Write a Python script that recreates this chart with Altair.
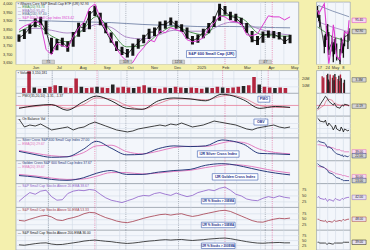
import altair as alt
import pandas as pd

# ============================ DATA ============================
# weekly samples of the main (one-year) chart
week_dates = pd.date_range("2024-05-24", periods=51, freq="7D")
close = [92.9, 94.6, 97.2, 99.8, 100.2, 95.9, 87.3, 90.8, 91.2, 88.6,
         93.8, 98.1, 97.2, 103.2, 105.4, 99.8, 95.9, 91.6, 88.2, 86.9,
         85.6, 88.6, 90.8, 92.9, 95.5, 95.5, 98.9, 98.9, 100.6, 98.5,
         97.2, 93.3, 91.6, 92.9, 95.5, 98.1, 101.1, 106.6, 104.5, 102.4,
         101.9, 99.3, 95.9, 92.0, 91.6, 94.2, 94.6, 94.6, 93.3, 91.2, 92.9]
high = [94.5, 96.8, 99.0, 101.6, 102.3, 100.5, 93.0, 92.5, 93.0, 91.5,
        95.5, 99.6, 99.5, 104.8, 107.2, 104.0, 99.5, 95.3, 91.5, 89.0,
        88.0, 90.5, 92.6, 94.3, 97.0, 97.5, 100.2, 100.6, 102.0, 100.5,
        99.0, 97.5, 93.8, 94.5, 97.0, 99.5, 102.5, 108.0, 107.0, 104.5,
        103.6, 101.8, 99.5, 96.0, 93.8, 95.8, 96.2, 96.0, 95.5, 93.8, 94.3]
low = [91.2, 92.5, 94.8, 97.6, 98.5, 94.6, 85.8, 87.5, 89.2, 86.8,
       89.0, 93.5, 95.6, 96.8, 102.6, 98.5, 95.0, 90.8, 87.2, 85.4,
       84.3, 85.1, 88.2, 90.6, 92.5, 93.8, 95.0, 97.0, 98.5, 97.0,
       95.6, 92.6, 90.0, 90.8, 92.8, 95.0, 97.8, 100.5, 103.2, 100.8,
       100.0, 98.8, 95.2, 91.0, 89.8, 90.8, 93.0, 92.8, 92.2, 90.2, 90.6]
index_line = [3846, 3869, 3881, 3899, 3881, 3727, 3697, 3763, 3751, 3739,
              3804, 3858, 3893, 3976, 4000, 3917, 3846, 3792, 3733, 3685,
              3656, 3650, 3703, 3739, 3786, 3774, 3840, 3828, 3858, 3846,
              3834, 3786, 3774, 3780, 3798, 3852, 3887, 3929, 3923, 3899,
              3893, 3881, 3816, 3810, 3822, 3875, 3929, 3923, 3923, 3905, 3923]
volume_m = [7, 30, 8, 6, 7, 9, 11, 10, 8, 7, 20, 9, 7, 8, 9, 8, 7, 12, 8, 9,
            8, 7, 9, 11, 8, 7, 6, 8, 7, 9, 8, 7, 8, 7, 6, 8, 7, 9, 8, 7,
            8, 9, 10, 11, 22, 12, 9, 8, 7, 8, 7]
volume_up = [0, 0, 1, 0, 1, 0, 0, 1, 0, 0, 0, 1, 0, 0, 1, 0, 0, 1, 0, 0,
             0, 1, 0, 0, 1, 0, 0, 0, 1, 0, 0, 1, 0, 0, 0, 1, 0, 0, 1, 0,
             0, 0, 1, 0, 0, 1, 0, 0, 1, 0, 0]
obv = [38, 22, 26, 24, 28, 22, 16, 18, 20, 22, 16, 20, 22, 28, 32, 28, 24, 20, 16, 14,
       12, 14, 18, 20, 22, 24, 26, 24, 28, 26, 30, 26, 22, 24, 26, 30, 34, 32, 30, 28,
       26, 22, 18, 16, 20, 22, 24, 26, 22, 20, 22]
pct20 = [25, 45, 62, 55, 68, 72, 45, 30, 32, 58, 68, 72, 70, 75, 72, 55, 40, 30, 25, 20,
         28, 35, 45, 50, 48, 58, 62, 55, 50, 60, 52, 45, 50, 62, 68, 74, 70, 80, 85, 72,
         55, 48, 35, 30, 28, 38, 45, 40, 48, 42, 39]
pct50 = [43, 40, 48, 55, 62, 65, 58, 45, 42, 50, 55, 62, 72, 78, 76, 65, 55, 48, 40, 35,
         33, 38, 45, 52, 58, 63, 68, 70, 66, 70, 72, 65, 60, 64, 70, 75, 80, 85, 87, 82,
         72, 62, 52, 42, 36, 35, 42, 48, 52, 50, 53]
pct200 = [26, 24, 28, 32, 35, 36, 30, 27, 28, 32, 36, 40, 45, 48, 50, 47, 44, 42, 38, 35,
          33, 35, 38, 42, 45, 47, 50, 52, 50, 52, 53, 50, 48, 50, 52, 55, 57, 59, 60, 57,
          52, 47, 42, 38, 35, 34, 36, 37, 38, 36, 36]

# smooth indicator curves, sampled roughly every three weeks
curve_dates = pd.to_datetime([
    "2024-05-24", "2024-06-15", "2024-07-05", "2024-07-25", "2024-08-15", "2024-09-01",
    "2024-09-20", "2024-10-10", "2024-10-30", "2024-11-20", "2024-12-10", "2024-12-31",
    "2025-01-20", "2025-02-10", "2025-02-20", "2025-03-10", "2025-03-31", "2025-04-20",
    "2025-05-09"])
ema20 = [95.5, 98.5, 93.8, 91.2, 96.8, 102.4, 95.9, 89.0, 89.5, 94.6,
         98.1, 95.5, 94.2, 102.8, 102.8, 101.1, 94.6, 93.8, 93.7]
ema50 = [95.9, 97.2, 96.3, 95.1, 96.3, 98.9, 97.6, 93.3, 92.5, 94.2,
         96.3, 95.9, 95.9, 98.9, 99.8, 99.3, 96.8, 95.1, 94.2]
ema200 = [100.6, 100.5, 100.4, 100.2, 100.0, 99.9, 99.7, 99.3, 98.9, 98.6,
          98.4, 98.1, 97.9, 98.0, 98.0, 97.9, 97.7, 97.5, 97.4]
pmo = [-0.77, -0.02, 0.22, -1.26, 0.97, 2.46, 1.22, -0.77, -1.02, 1.22,
       1.96, 1.71, 1.22, 2.95, 2.71, 1.46, -0.77, -0.27, -0.52]
pmo_signal = [-0.52, -0.27, 0.22, -0.77, 0.22, 1.96, 1.71, -0.02, -1.02, 0.47,
              1.71, 1.71, 1.46, 2.46, 2.71, 1.96, -0.02, -0.52, -0.52]
silver = [41, 26, 15, 17, 50, 85, 55, 26, 28, 53, 65, 62, 65, 91, 88, 72, 32, 30, 27]
silver_ema = [45, 32, 22, 18, 35, 65, 68, 40, 30, 42, 58, 63, 63, 78, 84, 80, 50, 36, 30]
golden = [35, 28, 18, 14, 25, 45, 57, 40, 40, 50, 57, 62, 80, 87, 85, 74, 58, 46, 38]
golden_ema = [40, 33, 24, 18, 20, 32, 48, 48, 42, 46, 53, 58, 70, 80, 83, 80, 68, 55, 46]

# daily data of the small zoomed panel
small_dates = pd.to_datetime([
    "2025-04-15", "2025-04-16", "2025-04-17", "2025-04-21", "2025-04-22", "2025-04-23",
    "2025-04-24", "2025-04-25", "2025-04-28", "2025-04-29", "2025-04-30", "2025-05-01",
    "2025-05-02", "2025-05-05", "2025-05-06", "2025-05-07", "2025-05-08", "2025-05-09",
    "2025-05-12", "2025-05-13"])
s_close = [97.3, 96.4, 95.5, 89.5, 91.1, 92.8, 93.3, 88.8, 90.6, 87.3,
           89.5, 90.2, 87.3, 86.2, 90.2, 89.5, 88.4, 91.7, 92.1, 92.9]
s_high = [98.6, 97.6, 96.6, 92.0, 92.4, 94.2, 94.6, 92.8, 92.0, 90.5,
          91.2, 91.5, 90.2, 89.0, 91.5, 91.0, 90.2, 93.0, 92.6, 93.6]
s_low = [96.0, 95.2, 93.8, 88.0, 89.4, 91.0, 91.8, 87.6, 88.4, 86.0,
         87.8, 88.8, 86.4, 85.2, 88.2, 88.0, 87.0, 89.6, 89.0, 90.8]
s_index = [97.7, 96.8, 97.3, 99.1, 96.2, 92.8, 88.8, 85.7, 90.6, 94.4,
           92.8, 89.5, 87.3, 86.6, 88.4, 90.6, 91.1, 92.8, 92.4, 95.4]
s_volume = [4.2, 3.6, 3.9, 4.5, 4.8, 3.4, 2.9, 4.6, 3.8, 4.4,
            3.2, 4.7, 4.0, 3.5, 4.3, 3.0, 4.6, 3.7, 2.6, 3.3]
s_volume_up = [0, 0, 0, 0, 1, 1, 1, 0, 1, 0, 1, 1, 0, 0, 1, 0, 0, 1, 0, 1]
s_pmo = [-0.97, -0.45, 0.07, 1.9, 2.42, 2.16, 1.63, 1.11, 0.33, 0.07,
         0.59, 0.07, -0.45, -0.72, -0.19, 0.07, -0.19, 0.33, 0.07, -0.19]
s_pmo_signal = [-1.24, -0.97, -0.71, 0.07, 0.85, 1.37, 1.63, 1.63, 1.37, 0.85,
                0.59, 0.59, 0.33, 0.07, 0.07, 0.07, 0.07, 0.07, 0.07, 0.07]
s_obv = [40, 38, 34, 32, 36, 28, 24, 30, 22, 16, 20, 26, 18, 14, 22, 18, 12, 18, 14, 16]
s_silver = [83, 87, 83, 78, 74, 65, 57, 61, 52, 43, 39, 35, 30, 26, 22, 26, 17, 22, 17, 22]
s_silver_ema = [70, 70, 70, 65, 65, 65, 61, 61, 57, 57, 52, 52, 48, 48, 43, 43, 43, 39, 39, 39]
s_golden = [87, 83, 78, 70, 65, 61, 57, 48, 43, 39, 35, 30, 26, 22, 17, 17, 13, 13, 13, 13]
s_golden_ema = [78, 74, 74, 70, 65, 65, 61, 57, 52, 48, 48, 43, 43, 39, 39, 35, 35, 35, 30, 30]
s_pct20 = [42, 46, 38, 33, 38, 29, 25, 33, 29, 25, 33, 38, 33, 29, 33, 38, 33, 38, 42, 42]
s_pct50 = [48, 48, 43, 39, 43, 35, 35, 39, 35, 39, 43, 39, 39, 43, 39, 43, 48, 43, 48, 48]
s_pct200 = [39, 39, 35, 35, 35, 30, 30, 35, 30, 30, 35, 35, 35, 35, 35, 35, 39, 39, 39, 39]
s_curve_dates = pd.to_datetime(["2025-04-15", "2025-04-28", "2025-05-13"])
s_ema20 = [93.9, 91.7, 90.6]
s_ema50 = [95.1, 93.9, 92.8]
s_ema200 = [98.8, 97.5, 96.2]

# axis / marker dates and labels
month_starts = pd.date_range("2024-06-01", periods=12, freq="MS")
month_label_dates = ["2024-06-15", "2024-07-15", "2024-08-15", "2024-09-15", "2024-10-15",
                     "2024-11-15", "2024-12-15", "2025-01-15", "2025-02-15", "2025-03-15",
                     "2025-04-15", "2025-05-15"]
month_labels = ["Jun", "Jul", "Aug", "Sep", "Oct", "Nov", "Dec", "2025", "Feb", "Mar", "Apr", "May"]
gray_marks = pd.to_datetime(["2024-07-01", "2024-10-09", "2024-12-16", "2025-04-07"])
pink_marks = pd.to_datetime(["2024-08-30", "2025-02-14", "2025-04-16"])
small_label_dates = ["2025-04-17", "2025-04-24", "2025-05-01", "2025-05-08"]
small_labels = ["17", "24", "May", "8"]

# ============================ STYLE ============================
YEL = "#f4f0ae"
PLOT = "#f3f6fb"
GRID = "#d3dbe7"
FONT = "Liberation Sans"
LBL = 3.8
W_MAIN, W_SMALL = 285, 34
MAG = "#dc3ccf"
NAVY = "#26397a"
PINK = "#e070bb"
BOX_SHAPE = "M-1,-0.32H1V0.32H-1Z"


def dt(s):
    y, m, d = (int(v) for v in s.split("-"))
    return alt.DateTime(year=y, month=m, date=d)


MAIN_DOM = [dt("2024-05-20"), dt("2025-05-20")]
SMALL_DOM = [dt("2025-04-14"), dt("2025-05-14")]


def xm(axis=None):
    return alt.X("date:T", scale=alt.Scale(domain=MAIN_DOM), axis=axis, title=None)


def xs(axis=None):
    return alt.X("date:T", scale=alt.Scale(domain=SMALL_DOM), axis=axis, title=None)


def yaxis(values, fmt=None, expr=None, labels=True, orient="right", grid=True, pad=3):
    kw = dict(orient=orient, values=values, grid=grid, gridColor=GRID, gridWidth=0.6,
              ticks=False, domain=False, labels=labels, labelFontSize=LBL,
              labelColor="#333", labelPadding=pad, title=None, labelFont=FONT)
    if fmt:
        kw["format"] = fmt
    if expr:
        kw["labelExpr"] = expr
    return alt.Axis(**kw)


month_df = pd.DataFrame({"date": month_starts})
gray_df = pd.DataFrame({"date": gray_marks})
pink_df = pd.DataFrame({"date": pink_marks})
small_lbl_df = pd.DataFrame({"date": pd.to_datetime(small_label_dates)})


def vlines_main():
    a = alt.Chart(month_df).mark_rule(color=GRID, strokeWidth=0.6).encode(x=xm())
    b = alt.Chart(gray_df).mark_rule(color="#7d8593", strokeWidth=0.6, strokeDash=[1, 1.2]).encode(x=xm())
    c = alt.Chart(pink_df).mark_rule(color="#e0508c", strokeWidth=0.6, strokeDash=[1, 1.2]).encode(x=xm())
    return [a, b, c]


def vlines_small():
    return [alt.Chart(small_lbl_df).mark_rule(color=GRID, strokeWidth=0.6).encode(x=xs())]


def txt(text, x, y, color="#333", size=3.4, bold=False, align="left"):
    return alt.Chart(pd.DataFrame({"t": [text]})).mark_text(
        align=align, baseline="middle", fontSize=size, color=color, font=FONT,
        fontWeight="bold" if bold else "normal").encode(x=alt.value(x), y=alt.value(y), text="t:N")


def box(text, x, y, w, h, size=3.6):
    r = alt.Chart(pd.DataFrame({"t": [text]})).mark_rect(
        fill="white", stroke="#3a5bb0", strokeWidth=0.6).encode(
        x=alt.value(x), x2=alt.value(x + w), y=alt.value(y), y2=alt.value(y + h))
    return [r, txt(text, x + w / 2, y + h / 2 + 0.2, "#1b2f8a", size, True, "center")]


def marker(value, scale, color, fill, fmt="{:.2f}", text_color="#222"):
    """value tag on the right axis strip of a small panel"""
    df = pd.DataFrame({"v": [value], "t": [fmt.format(value)]})
    y = alt.Y("v:Q", scale=scale, axis=None)
    pt = alt.Chart(df).mark_point(shape=BOX_SHAPE, size=200, filled=True, fill=fill, stroke=color,
                                  strokeWidth=0.5, opacity=1).encode(x=alt.value(W_SMALL + 9), y=y)
    tx = alt.Chart(df).mark_text(fontSize=3.2, color=text_color, font=FONT, baseline="middle").encode(
        x=alt.value(W_SMALL + 9), y=y, text="t:N")
    return [pt, tx]


# ============================ FRAMES ============================
pm = pd.DataFrame({"date": week_dates, "close": close, "high": high, "low": low,
                   "idx": index_line, "vol": volume_m, "obv": obv,
                   "p20": pct20, "p50": pct50, "p200": pct200,
                   "dir": ["up" if u else "down" for u in volume_up]})
cv = pd.DataFrame({"date": curve_dates, "ema20": ema20, "ema50": ema50, "ema200": ema200,
                   "pmo": pmo, "pmo_sig": pmo_signal, "silver": silver, "silver_ema": silver_ema,
                   "golden": golden, "golden_ema": golden_ema})
sm = pd.DataFrame({"date": small_dates, "close": s_close, "high": s_high, "low": s_low,
                   "idx": s_index, "vol": s_volume, "pmo": s_pmo, "pmo_sig": s_pmo_signal,
                   "obv": s_obv, "silver": s_silver, "silver_ema": s_silver_ema,
                   "golden": s_golden, "golden_ema": s_golden_ema,
                   "p20": s_pct20, "p50": s_pct50, "p200": s_pct200,
                   "dir": ["up" if u else "down" for u in s_volume_up]})
scv = pd.DataFrame({"date": s_curve_dates, "ema20": s_ema20, "ema50": s_ema50, "ema200": s_ema200})

DIR_COLOR = alt.Color("dir:N", scale=alt.Scale(domain=["up", "down"], range=["#262626", "#b3263f"]), legend=None)


def line(df, xfun, field, scale, color, width=0.8, axis=None, interp="linear"):
    return alt.Chart(df).mark_line(color=color, strokeWidth=width, clip=True, interpolate=interp).encode(
        x=xfun(), y=alt.Y(f"{field}:Q", scale=scale, axis=axis, title=None))


# ---------------- price row ----------------
PRICE_Y = alt.Scale(domain=[81.2, 108.8])
IDX_Y = alt.Scale(domain=[3638, 4012])
price_inner = alt.layer(
    line(cv, xm, "ema200", PRICE_Y, "#7282a6", 0.9, interp="monotone"),
    line(cv, xm, "ema50", PRICE_Y, "#a77fc2", 0.9, interp="monotone"),
    line(cv, xm, "ema20", PRICE_Y, "#3c8a3c", 0.9, interp="monotone"),
    alt.Chart(pm).mark_rule(color="#151515", strokeWidth=3.0, clip=True).encode(
        x=xm(), y=alt.Y("low:Q", scale=PRICE_Y, axis=None), y2="high:Q"),
    line(pm, xm, "close", PRICE_Y, "#000000", 0.8,
         axis=yaxis([82.5, 85.0, 87.5, 90.0, 92.5, 95.0, 97.5, 100.0, 102.5, 105.0, 107.5], fmt=".1f")),
)
idx_layer = line(pm, xm, "idx", IDX_Y, MAG, 1.0,
                 axis=yaxis([3650, 3700, 3750, 3800, 3850, 3900, 3950, 4000], orient="left", grid=False, pad=4))
date_tags = alt.Chart(gray_df).transform_calculate(t="timeFormat(datum.date, '%-m/%-d')")
price_main = alt.layer(
    *vlines_main(), price_inner, idx_layer,
    date_tags.mark_point(shape=BOX_SHAPE, size=150, filled=True, fill="#cfcfcf", stroke="#888",
                         strokeWidth=0.4, opacity=1).encode(x=xm(), y=alt.value(60.5)),
    date_tags.mark_text(fontSize=3.0, color="#333", font=FONT, baseline="middle").encode(
        x=xm(), y=alt.value(60.6), text="t:N"),
    txt("\u25aa iShares Core S&P Small-Cap ETF (IJR) 92.93", 2, 1.9, "#222"),
    txt("\u2014 EMA(20) 93.73", 2, 5.3, "#3c8a3c"),
    txt("\u2014 EMA(50) 95.42", 2, 8.7, "#8a62b0"),
    txt("\u2014 EMA(200) 97.40", 2, 12.2, "#55648a"),
    txt("\u2014 S&P 600 Small Cap Index 3923.42", 2, 15.7, MAG),
    *box("S&P 600 Small Cap (IJR)", 172, 49, 50, 7, 4.0),
).resolve_scale(y="independent").properties(width=W_MAIN, height=63)

S_PRICE_Y = alt.Scale(domain=[85.5, 99.5])
price_small = alt.layer(
    *vlines_small(),
    line(scv, xs, "ema200", S_PRICE_Y, "#7282a6", 0.8),
    line(scv, xs, "ema50", S_PRICE_Y, "#a77fc2", 0.8),
    line(scv, xs, "ema20", S_PRICE_Y, "#3c8a3c", 0.8),
    alt.Chart(sm).mark_rule(color="#151515", strokeWidth=1.3, clip=True).encode(
        x=xs(), y=alt.Y("low:Q", scale=S_PRICE_Y, axis=None), y2="high:Q"),
    line(sm, xs, "close", S_PRICE_Y, "#000000", 0.7,
         axis=yaxis([86.0, 87.5, 89.0, 90.5, 92.0, 93.5, 95.0, 96.5, 98.0], fmt=".1f")),
    line(sm, xs, "idx", S_PRICE_Y, MAG, 1.1),
    *marker(s_index[-1], S_PRICE_Y, MAG, "#f7d9f2"),
    *marker(s_close[-1], S_PRICE_Y, "#555", "#d4d4d4"),
).properties(width=W_SMALL, height=63)

# ---------------- month band (date labels) ----------------
BAND_VIEW = alt.ViewBackground(fill=YEL, strokeOpacity=0, strokeWidth=0)
band_main = alt.Chart(pd.DataFrame({"date": pd.to_datetime(month_label_dates), "lbl": month_labels})).mark_text(
    fontSize=4, color="#333", baseline="middle", font=FONT).encode(
    x=xm(), y=alt.value(3.2), text="lbl:N").properties(width=W_MAIN, height=6, view=BAND_VIEW)
band_small = alt.Chart(pd.DataFrame({"date": pd.to_datetime(small_label_dates), "lbl": small_labels})).mark_text(
    fontSize=4, color="#333", baseline="middle", font=FONT).encode(
    x=xs(), y=alt.value(3.2), text="lbl:N").properties(width=W_SMALL, height=6, view=BAND_VIEW)

# ---------------- volume row ----------------
VOL_Y = alt.Scale(domain=[0, 31])
vol_main = alt.layer(
    *vlines_main(),
    alt.Chart(pm).mark_bar(width=3.6, clip=True).encode(
        x=xm(), y=alt.Y("vol:Q", scale=VOL_Y, axis=yaxis([10, 20], expr="datum.value + 'M'"), title=None),
        color=DIR_COLOR),
    txt("\u25aa Volume 3,150,181", 2, 3, "#222"),
).properties(width=W_MAIN, height=23)
S_VOL_Y = alt.Scale(domain=[0, 5.6])
vol_small = alt.layer(
    *vlines_small(),
    alt.Chart(sm).mark_bar(width=1.4, clip=True).encode(
        x=xs(), y=alt.Y("vol:Q", scale=S_VOL_Y, axis=yaxis([1, 3, 5], expr="datum.value + 'M'"), title=None),
        color=DIR_COLOR),
    *marker(s_volume[-1], S_VOL_Y, "#555", "#d4d4d4", "{:.1f}M"),
).properties(width=W_SMALL, height=23)

# ---------------- PMO row ----------------
PMO_Y = alt.Scale(domain=[-2.8, 3.2])
zero_df = pd.DataFrame({"z": [0]})
pmo_main = alt.layer(
    *vlines_main(),
    alt.Chart(zero_df).mark_rule(color="#e46a8a", strokeWidth=0.7).encode(y=alt.Y("z:Q", scale=PMO_Y, axis=None)),
    line(cv, xm, "pmo_sig", PMO_Y, "#d9607a", 0.7, interp="monotone"),
    line(cv, xm, "pmo", PMO_Y, "#111111", 0.9, axis=yaxis([-2, 0, 2]), interp="monotone"),
    txt("\u2014 PMO(35,20,10) -1.31, -1.37", 2, 3, "#222"),
    *box("PMO", 244, 3, 12, 6),
).properties(width=W_MAIN, height=23)
pmo_small = alt.layer(
    *vlines_small(),
    alt.Chart(zero_df).mark_rule(color="#e46a8a", strokeWidth=0.7).encode(y=alt.Y("z:Q", scale=PMO_Y, axis=None)),
    line(sm, xs, "pmo_sig", PMO_Y, "#d9607a", 0.7),
    line(sm, xs, "pmo", PMO_Y, "#111111", 0.8, axis=yaxis([-2, 0, 2])),
    *marker(s_pmo[-1], PMO_Y, "#555", "#d4d4d4"),
).properties(width=W_SMALL, height=23)

# ---------------- OBV row ----------------
OBV_Y = alt.Scale(domain=[0, 44])
obv_main = alt.layer(
    *vlines_main(),
    line(pm, xm, "obv", OBV_Y, "#111111", 0.8, axis=yaxis([10, 20, 30], labels=False)),
    txt("\u2014 On Balance Vol", 2, 3, "#222"),
    *box("OBV", 240, 3, 14, 6),
).properties(width=W_MAIN, height=22)
obv_small = alt.layer(
    *vlines_small(),
    line(sm, xs, "obv", OBV_Y, "#111111", 0.8, axis=yaxis([10, 20, 30], labels=False)),
).properties(width=W_SMALL, height=22)

# ---------------- silver / golden rows ----------------
PCT_Y = alt.Scale(domain=[0, 100])


def cross_row(field, title, sig_title, boxtext, bx, bw, small_vals, small_sig):
    main = alt.layer(
        *vlines_main(),
        line(cv, xm, f"{field}_ema", PCT_Y, PINK, 0.9, interp="monotone"),
        line(cv, xm, field, PCT_Y, NAVY, 1.0, axis=yaxis([20, 40, 60, 80]), interp="monotone"),
        txt(title, 2, 2.6, NAVY),
        txt(sig_title, 2, 6.0, PINK),
        *box(boxtext, bx, 13, bw, 6.5, 3.6),
    ).properties(width=W_MAIN, height=23)
    small = alt.layer(
        *vlines_small(),
        line(sm, xs, f"{field}_ema", PCT_Y, PINK, 0.8),
        line(sm, xs, field, PCT_Y, NAVY, 0.9, axis=yaxis([20, 40, 60, 80])),
        *marker(small_sig[-1], PCT_Y, PINK, "#f7d9f2"),
        *marker(small_vals[-1], PCT_Y, NAVY, "#d4d4d4"),
    ).properties(width=W_SMALL, height=23)
    return main, small


silver_main, silver_small = cross_row("silver", "\u2014 Silver Cross S&P 600 Small Cap Index 27.00",
                                      "\u2014 EMA(20) 29.67", "IJR Silver Cross Index", 183, 42,
                                      s_silver, s_silver_ema)
golden_main, golden_small = cross_row("golden", "\u2014 Golden Cross S&P 600 Small Cap Index 37.67",
                                      "\u2014 EMA(20) 39.67", "IJR Golden Cross Index", 198, 46,
                                      s_golden, s_golden_ema)


# ---------------- percent-above-EMA rows ----------------
def pct_row(field, color, title, boxtext, h, by, small_vals):
    main = alt.layer(
        *vlines_main(),
        line(pm, xm, field, PCT_Y, color, 0.8, axis=yaxis([25, 50, 75])),
        txt(title, 2, 2.6, color),
        *box(boxtext, 187, by, 34, 5.5, 3.0),
    ).properties(width=W_MAIN, height=h)
    small = alt.layer(
        *vlines_small(),
        line(sm, xs, field, PCT_Y, color, 0.8, axis=yaxis([25, 50, 75])),
        *marker(small_vals[-1], PCT_Y, color, "#e6e0f0"),
    ).properties(width=W_SMALL, height=h)
    return main, small


p20_main, p20_small = pct_row("p20", "#8d5fc9", "\u2014 S&P Small Cap Stocks Above 20-EMA 38.67",
                              "IJR % Stocks > 20EMA", 24, 15, s_pct20)
p50_main, p50_small = pct_row("p50", "#a43a4a", "\u2014 S&P Small Cap Stocks Above 50-EMA 53.33",
                              "IJR % Stocks > 50EMA", 23, 15, s_pct50)
p200_main, p200_small = pct_row("p200", "#1a1a1a", "\u2014 S&P Small Cap Stocks Above 200-EMA 36.00",
                                "IJR % Stocks > 200EMA", 20, 13, s_pct200)

cells = [price_main, price_small, band_main, band_small, vol_main, vol_small, pmo_main, pmo_small,
         obv_main, obv_small, silver_main, silver_small, golden_main, golden_small,
         p20_main, p20_small, p50_main, p50_small, p200_main, p200_small]

chart = alt.concat(*cells, columns=2, spacing={"row": 0, "column": 18}, bounds="flush").properties(
    background=YEL, padding={"left": 2, "top": 0, "right": 2, "bottom": 0}
).configure(font=FONT).configure_view(fill=PLOT, stroke="#8e98a8", strokeWidth=0.6)

chart.save("out.html", embed_options={"renderer": "svg", "actions": False})
